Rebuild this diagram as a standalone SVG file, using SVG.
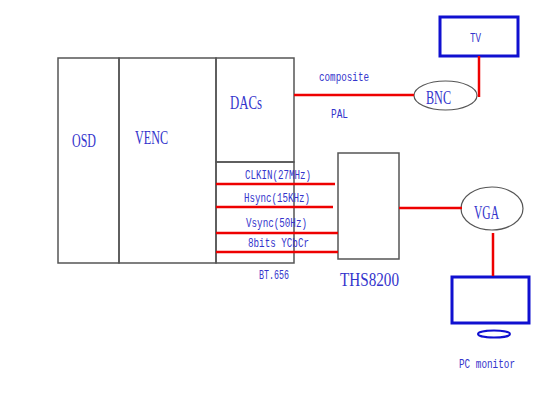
<svg xmlns="http://www.w3.org/2000/svg" width="550" height="412" viewBox="0 0 550 412">
<style>
.box{fill:none;stroke:#555;stroke-width:1.5}
.blue{fill:none;stroke:#1010d0;stroke-width:3}
.ell{fill:none;stroke:#555;stroke-width:1.2}
.red{fill:none;stroke:#ee0000;stroke-width:2.5}
.big{font-family:"Liberation Serif",serif;font-size:18px;fill:#3434cc}
.sm{font-family:"Liberation Mono",monospace;font-size:12px;fill:#3434cc}
</style>
<rect width="550" height="412" fill="#fff"/>
<g id="osd"><rect class="box" x="58" y="58" width="61" height="205"/><text class="big" x="72" y="147" textLength="24" lengthAdjust="spacingAndGlyphs">OSD</text></g>
<g id="venc"><rect class="box" x="119" y="58" width="97" height="205"/><text class="big" x="135" y="144" textLength="33" lengthAdjust="spacingAndGlyphs">VENC</text></g>
<g id="dacs"><rect class="box" x="216" y="58" width="78" height="104"/><text class="big" x="230" y="109" textLength="32" lengthAdjust="spacingAndGlyphs">DACs</text></g>
<g id="bt656"><rect class="box" x="216" y="162" width="78" height="101"/><text class="sm" x="259" y="279" textLength="30" lengthAdjust="spacingAndGlyphs">BT.656</text></g>
<g id="ths8200"><rect class="box" x="338" y="153" width="61" height="106"/><text class="big" x="340" y="286" textLength="59" lengthAdjust="spacingAndGlyphs">THS8200</text></g>
<g id="tv"><rect class="blue" x="440" y="17" width="78" height="39"/><text class="sm" x="470" y="42" textLength="11" lengthAdjust="spacingAndGlyphs">TV</text></g>
<g id="bnc"><ellipse class="ell" cx="445.5" cy="95.5" rx="31.5" ry="14.5"/><text class="big" x="426" y="104" textLength="25" lengthAdjust="spacingAndGlyphs">BNC</text></g>
<g id="vga"><ellipse class="ell" cx="492" cy="208.5" rx="31" ry="21.5"/><text class="big" x="474" y="219" textLength="25" lengthAdjust="spacingAndGlyphs">VGA</text></g>
<g id="pcmonitor"><rect class="blue" x="452" y="277" width="77" height="46"/><ellipse cx="494" cy="334" rx="16" ry="3.5" fill="none" stroke="#1010d0" stroke-width="2"/><text class="sm" x="459" y="368" textLength="56" lengthAdjust="spacingAndGlyphs">PC monitor</text></g>
<g id="connectors">
<line class="red" x1="294" y1="95" x2="414" y2="95"/>
<line class="red" x1="479" y1="56" x2="479" y2="97"/>
<line class="red" x1="216" y1="184" x2="335" y2="184"/>
<line class="red" x1="216" y1="207" x2="333" y2="207"/>
<line class="red" x1="216" y1="233" x2="338" y2="233"/>
<line class="red" x1="216" y1="252" x2="338" y2="252"/>
<line class="red" x1="399" y1="208" x2="462" y2="208" stroke-width="4"/>
<line class="red" x1="493" y1="233" x2="493" y2="276"/>
<text class="sm" x="319" y="81" textLength="50" lengthAdjust="spacingAndGlyphs">composite</text>
<text class="sm" x="331" y="118" textLength="17" lengthAdjust="spacingAndGlyphs">PAL</text>
<text class="sm" x="245" y="179" textLength="66" lengthAdjust="spacingAndGlyphs">CLKIN(27MHz)</text>
<text class="sm" x="244" y="202" textLength="66" lengthAdjust="spacingAndGlyphs">Hsync(15KHz)</text>
<text class="sm" x="246" y="227" textLength="61" lengthAdjust="spacingAndGlyphs">Vsync(50Hz)</text>
<text class="sm" x="248" y="247" textLength="61" lengthAdjust="spacingAndGlyphs">8bits YCbCr</text>
</g>
</svg>
